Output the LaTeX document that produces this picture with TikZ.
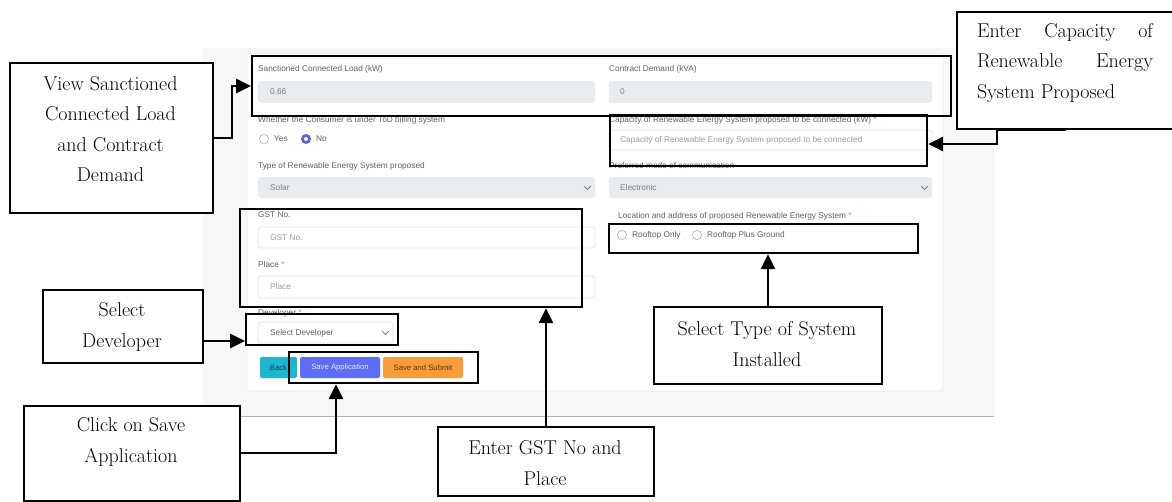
\documentclass[tikz,border=0pt]{standalone}
\usepackage{fontspec}
\newfontfamily\uifont{Liberation Sans}
\usetikzlibrary{arrows.meta}
\definecolor{pagebg}{HTML}{F7F7F8}
\definecolor{cardline}{HTML}{ECECEE}
\definecolor{lblc}{HTML}{5E6166}
\definecolor{valc}{HTML}{7A7D82}
\definecolor{phc}{HTML}{9A9DA2}
\definecolor{roc}{HTML}{E9ECEF}
\definecolor{inpline}{HTML}{E2E4E8}
\definecolor{radioc}{HTML}{B8BBC0}
\definecolor{pickc}{HTML}{5563E0}
\definecolor{backc}{HTML}{1CB7CF}
\definecolor{savec}{HTML}{5E6DF6}
\definecolor{submitc}{HTML}{FA9C3C}
\begin{document}
\begin{tikzpicture}[x=1pt,y=-1pt,
  lbl/.style={anchor=west, inner sep=0pt, font=\uifont\fontsize{8.3}{9}\selectfont, text=lblc},
  val/.style={anchor=west, inner sep=0pt, font=\uifont\fontsize{8.3}{9}\selectfont, text=valc},
  ph/.style={anchor=west, inner sep=0pt, font=\uifont\fontsize{8.3}{9}\selectfont, text=phc},
  btn/.style={inner sep=0pt, font=\uifont\fontsize{7.7}{9}\selectfont},
  rofield/.style={fill=roc, rounded corners=3pt},
  infield/.style={fill=white, draw=inpline, line width=0.7pt, rounded corners=3pt},
  radio/.style={draw=radioc, line width=0.8pt, fill=white},
  chev/.style={draw=valc, line width=0.9pt},
  hl/.style={draw=black, line width=2.2pt, inner sep=0pt, anchor=north west},
  callout/.style={draw=black, line width=2pt, fill=white, inner sep=0pt, anchor=north west},
  ctext/.style={font=\fontsize{20}{30.5}\selectfont, align=center, inner sep=0pt},
  conn/.style={draw=black, line width=2.7pt, -{Triangle[length=15pt,width=14pt]}}
]
\useasboundingbox (0,0) rectangle (1172,501);
\fill[white] (0,0) rectangle (1172,501);

% ---------- application form backdrop ----------
\fill[pagebg] (203,48) rectangle (994,416);
\draw[black!30, line width=1pt] (203,416) -- (994,416);
\draw[cardline, fill=white, rounded corners=2pt, line width=0.8pt] (247,53) rectangle (943,391);

% left column
\node[lbl] (lLoad) at (258,69) {Sanctioned Connected Load (kW)};
\path[rofield] (258,81) rectangle (595,103);
\node[val] (vLoad) at (270,92) {0.66};

\node[lbl] (lTod) at (258,120) {Whether the Consumer is under ToD billing system};
\draw[radio] (264,139) circle (4.6pt);
\node[lbl] (rYes) at (274,139) {Yes};
\fill[pickc] (306,139) circle (5pt);
\fill[white] (306,139) circle (2pt);
\node[lbl] (rNo) at (316,139) {No};

\node[lbl] (lType) at (258,166) {Type of Renewable Energy System proposed};
\path[rofield] (258,177) rectangle (595,198);
\node[val] (vType) at (270,188) {Solar};
\draw[chev] (584,186) -- (587.5,189.5) -- (591,186);

\node[lbl] (lGst) at (258,215) {GST No.};
\path[infield] (258,227) rectangle (595,248);
\node[ph] (pGst) at (270,238) {GST No.};

\node[lbl] (lPlace) at (258,265) {Place \textcolor{red!60}{*}};
\path[infield] (258,276) rectangle (595,298);
\node[ph] (pPlace) at (270,287) {Place};

\node[lbl] (lDev) at (258,313) {Developer \textcolor{red!60}{*}};
\path[infield] (258,322) rectangle (393,343);
\node[lbl] (pDev) at (270,333) {Select Developer};
\draw[chev] (382,331) -- (385.5,334.5) -- (389,331);

\fill[backc, rounded corners=2pt] (260,357) rectangle (297,378);
\node[btn, text=black!60!backc] (bBack) at (278.5,367.5) {Back};
\fill[savec, rounded corners=2pt] (300,357) rectangle (380,378);
\node[btn, text=white!85!savec] (bSave) at (340,367.5) {Save Application};
\fill[submitc, rounded corners=2pt] (383,357) rectangle (463,378);
\node[btn, text=black!65!submitc] (bSubmit) at (423,367.5) {Save and Submit};

% right column
\node[lbl] (lDemand) at (609,69) {Contract Demand (kVA)};
\path[rofield] (609,81) rectangle (932,103);
\node[val] (vDemand) at (620,92) {0};

\node[lbl] (lCap) at (609,120) {Capacity of Renewable Energy System proposed to be connected (kW) \textcolor{red!60}{*}};
\path[infield] (609,130) rectangle (932,150);
\node[ph] (pCap) at (620,140) {Capacity of Renewable Energy System proposed to be connected};

\node[lbl] (lComm) at (609,166) {Preferred mode of communication};
\path[rofield] (609,177) rectangle (932,198);
\node[val] (vComm) at (620,188) {Electronic};
\draw[chev] (921,186) -- (924.5,189.5) -- (928,186);

\node[lbl] (lLoc) at (618,216) {Location and address of proposed Renewable Energy System \textcolor{red!60}{*}};
\draw[radio] (622,235) circle (4.6pt);
\node[lbl] (rRoof) at (632,235) {Rooftop Only};
\draw[radio] (697,235) circle (4.6pt);
\node[lbl] (rGround) at (707,235) {Rooftop Plus Ground};

% ---------- highlight frames ----------
\node[hl, minimum width=699pt, minimum height=60pt] (hlA) at (251,55) {};
\node[hl, minimum width=317pt, minimum height=51pt] (hlCap) at (609,114) {};
\node[hl, minimum width=342pt, minimum height=98pt] (hlGST) at (239,208) {};
\node[hl, minimum width=152pt, minimum height=31pt] (hlDev) at (245,313) {};
\node[hl, minimum width=189pt, minimum height=31pt] (hlSave) at (288,351) {};
\node[hl, minimum width=309pt, minimum height=29pt] (hlRoof) at (608,223) {};

% ---------- callouts ----------
\node[callout, minimum width=203pt, minimum height=150pt] (view) at (9,62) {};
\node[ctext] (viewtxt) at (110.5,129) {View Sanctioned\\Connected Load\\and Contract\\Demand};

\node[callout, minimum width=218pt, minimum height=117pt] (cap) at (956,11) {};
\node[inner sep=0pt] (captxt) at (1065,63) {\parbox{176pt}{\fontsize{20}{30.5}\selectfont
  Enter Capacity of\linebreak Renewable Energy\linebreak System Proposed}};

\node[callout, minimum width=160pt, minimum height=73pt] (dev) at (42,289) {};
\node[ctext] (devtxt) at (122,327) {Select\\Developer};

\node[callout, minimum width=216pt, minimum height=95pt] (save) at (23,405) {};
\node[ctext] (savetxt) at (131,442) {Click on Save\\Application};

\node[callout, minimum width=216pt, minimum height=69pt] (gst) at (437,426) {};
\node[ctext] (gsttxt) at (545,463) {Enter GST No and\\Place};

\node[callout, minimum width=228pt, minimum height=77pt] (type) at (653,306) {};
\node[ctext] (typetxt) at (767,344) {Select Type of System\\Installed};

% ---------- connectors ----------
\coordinate (kView) at (232,86);
\draw[conn] (view.east) -| (kView) -- (kView -| hlA.west);

\coordinate (kCap) at (997,144);
\draw[conn] (cap.south) -| (kCap) -- (kCap -| hlCap.east);

\coordinate (kDev) at (220,341);
\draw[conn] (kDev -| dev.east) -- (kDev -| hlDev.west);

\coordinate (kSave) at (336,453);
\draw[conn] (kSave -| save.east) -- (kSave) -- (kSave |- hlSave.south);

\draw[conn] (gst.north) -- (gst.north |- hlGST.south);
\draw[conn] (type.north) -- (type.north |- hlRoof.south);
\end{tikzpicture}
\end{document}
